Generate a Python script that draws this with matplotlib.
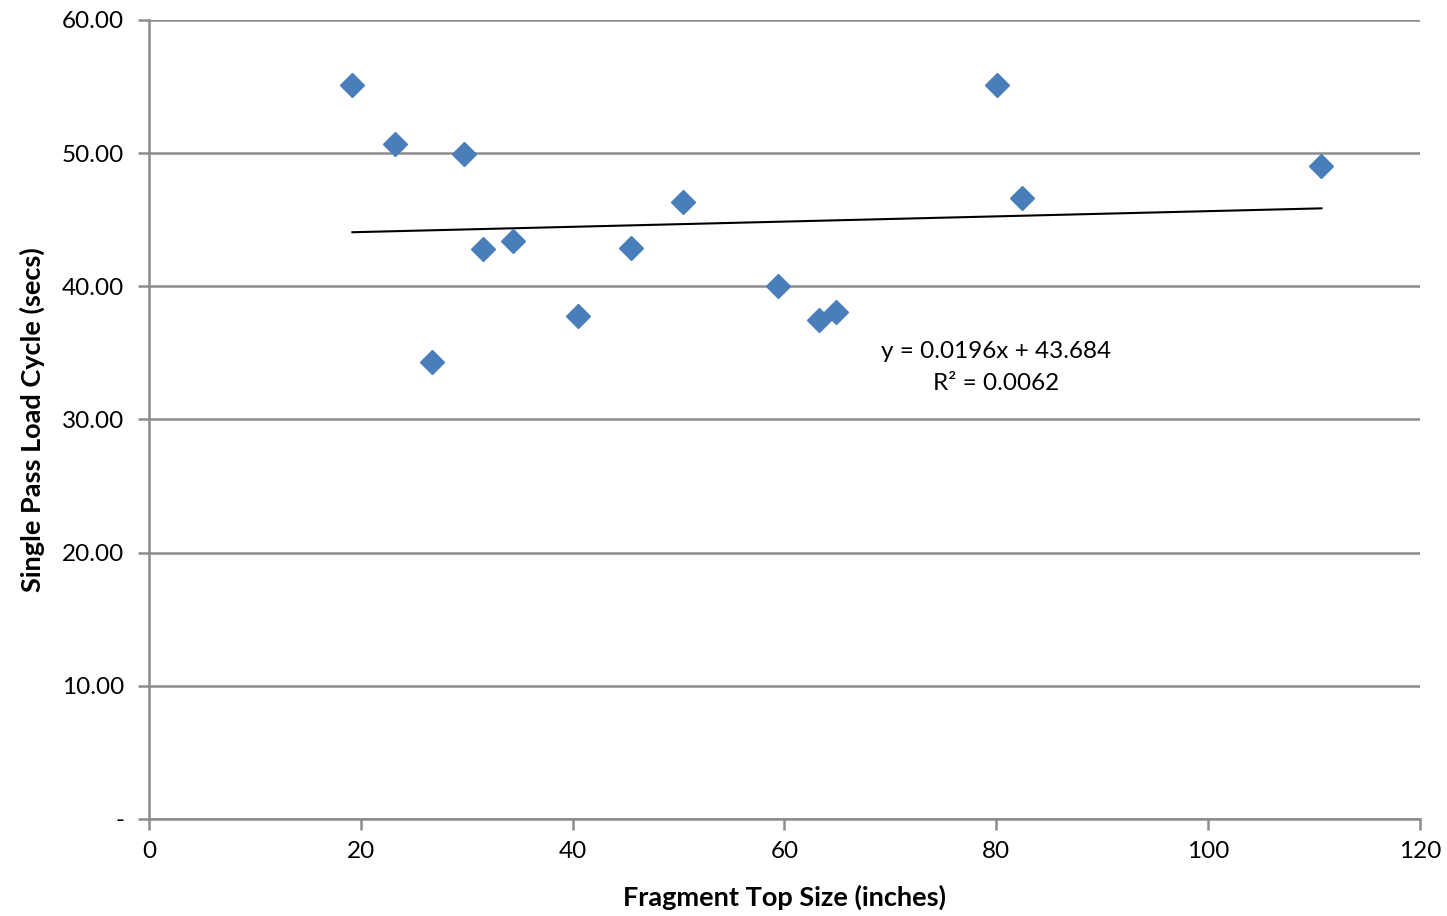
import numpy as np
import matplotlib
matplotlib.use('Agg')
from matplotlib import pyplot as plt
from matplotlib.ticker import FuncFormatter

plt.rcParams['font.family'] = ['Lato', 'DejaVu Sans']

# fragment top size (inches) vs single pass load cycle (secs)
top_size = [19.2, 23.2, 26.7, 29.7, 31.5, 34.4, 40.5, 45.5, 50.4, 59.4, 63.3, 64.9, 80.1, 82.4, 110.7]
cycle_secs = [55.1, 50.7, 34.3, 49.9, 42.8, 43.4, 37.8, 42.9, 46.3, 40.0, 37.5, 38.1, 55.1, 46.6, 49.0]

slope = 0.0196
intercept = 43.684
r2 = 0.0062

fig = plt.figure(figsize=(14.47, 9.16), dpi=100)
ax = fig.add_axes([0.103, 0.1059, 0.8783, 0.8723])

grid_col = '#8c8c8c'
ax.set_xlim(0, 120)
ax.set_ylim(0, 60)
ax.set_xticks(np.arange(0, 121, 20))
ax.set_yticks(np.arange(0, 61, 10))
ax.yaxis.grid(True, color=grid_col, linewidth=1.8)
ax.set_axisbelow(True)

for s in ['top', 'right']:
    ax.spines[s].set_visible(False)
for s in ['left', 'bottom']:
    ax.spines[s].set_color(grid_col)
    ax.spines[s].set_linewidth(1.8)

ax.tick_params(axis='both', colors=grid_col, length=8, width=1.8, labelcolor='black',
               labelsize=17.5)
ax.tick_params(axis='x', pad=8)
ax.tick_params(axis='y', pad=10)
ax.yaxis.set_major_formatter(FuncFormatter(lambda v, p: '-' if v == 0 else f'{v:.2f}'))

ax.plot(top_size, cycle_secs, linestyle='none', marker='D', markersize=12,
        color='#4a7ebb', markeredgecolor='#4a7ebb', zorder=3)

# linear trend over the data range
xs = np.array([min(top_size), max(top_size)])
ax.plot(xs, slope * xs + intercept, color='black', linewidth=1.5, zorder=2)

ax.text(80, 33.9, f'y = {slope}x + {intercept}\nR² = {r2}', ha='center', va='center',
        fontsize=17.5, linespacing=1.6)

ax.set_xlabel('Fragment Top Size (inches)', fontsize=19.5, fontweight='bold', labelpad=16)
ax.set_ylabel('Single Pass Load Cycle (secs)', fontsize=19.5, fontweight='bold', labelpad=12)

fig.savefig('out.png', dpi=100)
